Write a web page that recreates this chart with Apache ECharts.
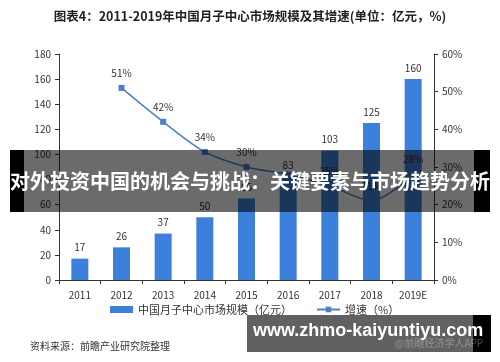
<!DOCTYPE html>
<html><head><meta charset="utf-8">
<script src="https://cdn.jsdelivr.net/npm/echarts@6/dist/echarts.min.js"></script>
<style>html,body{margin:0;padding:0;background:#fff}#c{width:500px;height:362px}</style>
</head><body><div id="c"></div>
<script>
var categories = ['2011','2012','2013','2014','2015','2016','2017','2018','2019E'];
var marketSize = [17, 26, 37, 50, 65, 83, 103, 125, 160];
var growth = [null, 51, 42, 34, 30, 28, 25, 21, 28];
var leftTicks = [0, 20, 40, 60, 80, 100, 120, 140, 160, 180];
var rightTicks = [0, 10, 20, 30, 40, 50, 60];

var F = '"Noto Sans CJK SC", "Noto Sans", sans-serif';
var chart = echarts.init(document.getElementById('c'), null, {renderer: 'canvas'});
var growthData = growth.map(function(v, i){
  return (i === 5) ? {value: v, label: {show: false}} : v;
});
chart.setOption({
  animation: false,
  textStyle: {fontFamily: F},
  title: {
    text: '图表4：2011-2019年中国月子中心市场规模及其增速(单位：亿元，%)',
    left: 'center', top: 5,
    textStyle: {fontSize: 12.5, fontWeight: 'bold', color: '#222', fontFamily: F}
  },
  grid: {left: 59, right: 66, top: 54, bottom: 82},
  legend: {
    top: 299, left: 105, itemGap: 24, itemWidth: 23, itemHeight: 7,
    textStyle: {fontSize: 11, color: '#333', fontFamily: F},
    data: [
      {name: '中国月子中心市场规模（亿元）', icon: 'rect'},
      {name: '增速（%）'}
    ]
  },
  xAxis: {
    type: 'category', data: categories,
    axisLine: {lineStyle: {color: '#333'}},
    axisTick: {show: true, length: 4, lineStyle: {color: '#333'}},
    axisLabel: {color: '#333', fontSize: 10, margin: 10}
  },
  yAxis: [
    {type: 'value', min: 0, max: 180, interval: 20,
     axisLine: {show: true, lineStyle: {color: '#333'}},
     axisTick: {show: true, length: 4, lineStyle: {color: '#333'}},
     axisLabel: {color: '#333', fontSize: 10, margin: 8},
     splitLine: {show: false}},
    {type: 'value', min: 0, max: 60, interval: 10,
     axisLine: {show: true, lineStyle: {color: '#333'}},
     axisTick: {show: true, length: 4, lineStyle: {color: '#333'}},
     axisLabel: {color: '#333', fontSize: 10, margin: 8, formatter: '{value}%'},
     splitLine: {show: false}}
  ],
  series: [
    {name: '中国月子中心市场规模（亿元）', type: 'bar', data: marketSize, barWidth: 17,
     itemStyle: {color: '#3d80dc'},
     label: {show: true, position: 'top', color: '#333', fontSize: 10, distance: 6}},
    {name: '增速（%）', type: 'line', yAxisIndex: 1, data: growthData, smooth: 0.3,
     symbol: 'rect', symbolSize: 6,
     lineStyle: {color: '#4a80c8', width: 1.5},
     itemStyle: {color: '#4a80c8'},
     label: {show: true, position: 'top', color: '#333', fontSize: 10, distance: 7,
             formatter: function(p){return p.value + '%';}}}
  ],
  graphic: [
    {type: 'rect', z: 100, shape: {x: 10, y: 150, width: 480, height: 62}, style: {fill: 'rgba(0,0,0,0.58)'}},
    {type: 'rect', z: 100, shape: {x: 10, y: 150, width: 14, height: 62}, style: {fill: '#000'}},
    {type: 'rect', z: 100, shape: {x: 474, y: 150, width: 16, height: 62}, style: {fill: '#000'}},
    {type: 'text', z: 101, left: 'center', top: 171,
     style: {text: '对外投资中国的机会与挑战：关键要素与市场趋势分析', fill: '#fff', font: 'bold 20px "Noto Sans CJK SC"'}},
    {type: 'text', z: 10, left: 30, top: 341,
     style: {text: '资料来源：前瞻产业研究院整理', fill: '#333', font: '10px "Noto Sans CJK SC"'}},
    {type: 'rect', z: 100, shape: {x: 247, y: 315, width: 244, height: 37}, style: {fill: 'rgba(0,0,0,0.62)'}},
    {type: 'rect', z: 100, shape: {x: 473, y: 315, width: 18, height: 37}, style: {fill: '#000'}},
    {type: 'text', z: 101, left: 395, top: 338,
     style: {text: '@前瞻经济学人APP', fill: 'rgba(255,255,255,0.3)', font: '10px "Noto Sans CJK SC"'}},
    {type: 'text', z: 102, left: 253, top: 322,
     style: {text: 'www.zhmo-kaiyuntiyu.com', fill: '#fff', font: 'bold 18px "Liberation Sans"'}}
  ]
});
</script></body></html>
